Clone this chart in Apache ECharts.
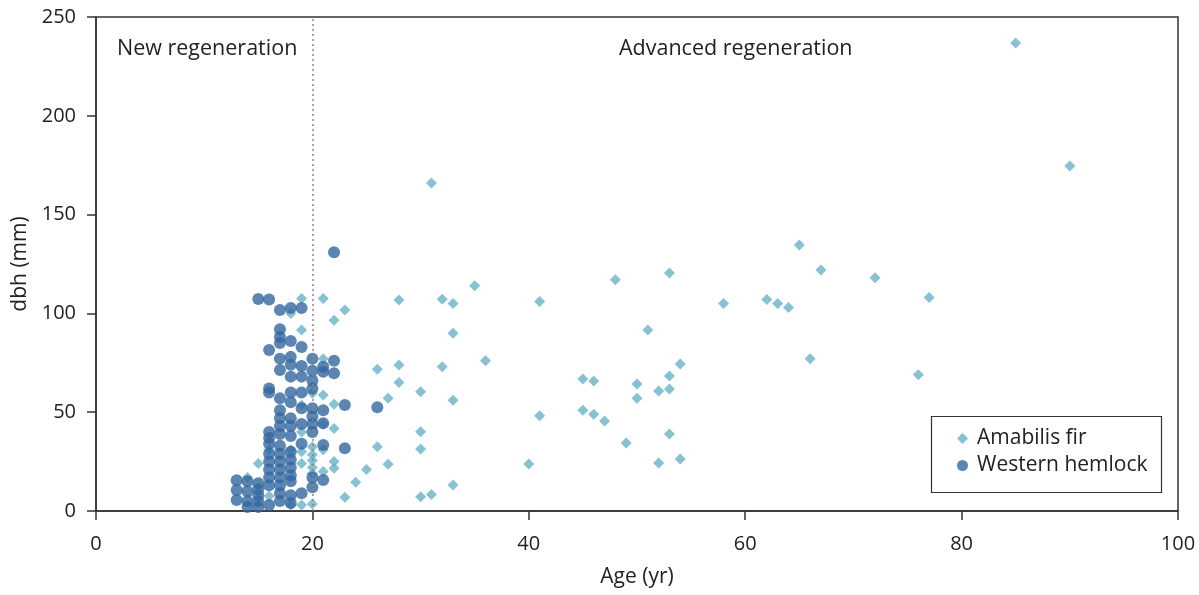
<!DOCTYPE html>
<html><head><meta charset="utf-8">
<script src="https://cdn.jsdelivr.net/npm/echarts@6/dist/echarts.min.js"></script>
<style>html,body{margin:0;padding:0;background:#fff}#c{width:1199px;height:595px}</style>
</head><body><div id="c"></div>
<script>
// Amabilis fir: [age (yr), dbh (mm)]
const firData = [
  [14,17],[15,24],[16,7.6],[16,31],
  [18,100],[18,31],[18,3],
  [19,107.6],[19,91.6],[19,53.6],[19,40],[19,30],[19,24],[19,3],
  [20,59.6],[20,32.5],[20,28.5],[20,25.5],[20,22],[20,19],[20,3.5],
  [21,107.6],[21,77],[21,58.7],[21,44],[21,31],[21,20],
  [22,96.5],[22,54],[22,41.8],[22,25],[22,21.6],
  [23,101.7],[23,7],[24,14.6],[25,21],[26,71.7],[26,32.5],[27,57],[27,23.6],
  [28,106.8],[28,73.9],[28,65],[30,60.4],[30,40.1],[30,31.4],[30,7.2],
  [31,166],[31,8.4],[32,107.1],[32,73],[33,105],[33,90],[33,56],[33,13.2],
  [35,114],[36,76],[40,23.8],[41,106],[41,48.2],
  [45,66.8],[45,51],[46,65.8],[46,49],[47,45.5],[48,117],[49,34.4],
  [50,64.3],[50,57],[51,91.6],[52,60.7],[52,24.3],[53,120.5],[53,68.3],[53,61.7],[53,39],
  [54,74.4],[54,26.3],[58,105],[62,107],[63,105],[64,103],[65,134.6],[66,77],[67,122],
  [72,118],[76,69],[77,108],[85,236.8],[90,174.6]
];
// Western hemlock: [age (yr), dbh (mm)]
const hemlockData = [
  [13,15.6],[13,10.6],[13,5.6],
  [14,15],[14,10],[14,5],[14,2],
  [15,107.3],[15,14],[15,11],[15,8],[15,5],[15,2],
  [16,107],[16,81.5],[16,62],[16,60],[16,40],[16,37],[16,34],[16,29],[16,25],[16,21],[16,17],[16,13],[16,3],
  [17,101.7],[17,92],[17,88],[17,85],[17,77],[17,71.4],[17,57],[17,51],[17,47],[17,43],[17,39],[17,33],[17,29],[17,25],[17,21],[17,17],[17,13],[17,9],[17,5],
  [18,102.7],[18,86],[18,78],[18,74],[18,68],[18,60],[18,55],[18,47],[18,43],[18,38],[18,30],[18,26],[18,22],[18,18],[18,15],[18,8],[18,4],
  [19,102.7],[19,83],[19,73.4],[19,68],[19,60],[19,52],[19,44],[19,34],[19,9],
  [20,77],[20,71],[20,66],[20,62],[20,52],[20,48],[20,44],[20,40],[20,17],[20,12],
  [21,73],[21,70.5],[21,51],[21,44.4],[21,33.4],[21,15.7],
  [22,131],[22,76],[22,69.7],
  [23,53.6],[23,31.7],
  [26,52.5]
];
const xTicks = [0, 20, 40, 60, 80, 100];
const yTicks = [0, 50, 100, 150, 200, 250];
const boundaryAge = 20;

const FONT = '"Open Sans", "Noto Sans", sans-serif';
const chart = echarts.init(document.getElementById('c'));
chart.setOption({
  animation: false,
  textStyle: { fontFamily: FONT },
  grid: { left: 96, right: 21, top: 17, bottom: 84, show: true, borderColor: '#333', borderWidth: 1.5 },
  xAxis: {
    type: 'value', min: xTicks[0], max: xTicks[xTicks.length-1], interval: 20,
    name: 'Age (yr)', nameLocation: 'middle', nameGap: 56,
    nameTextStyle: { fontSize: 21, color: '#222', fontFamily: FONT },
    axisLine: { show: true, onZero: false, lineStyle: { color: '#333', width: 1.5 } },
    axisTick: { show: true, length: 9, lineStyle: { color: '#333', width: 1.5 } },
    axisLabel: { fontSize: 20, color: '#222', margin: 23, fontFamily: FONT },
    splitLine: { show: false }
  },
  yAxis: {
    type: 'value', min: yTicks[0], max: yTicks[yTicks.length-1], interval: 50,
    name: 'dbh (mm)', nameLocation: 'middle', nameGap: 59, nameRotate: 90,
    nameTextStyle: { fontSize: 21, color: '#222', fontFamily: FONT },
    axisLine: { show: true, onZero: false, lineStyle: { color: '#333', width: 1.5 } },
    axisTick: { show: true, length: 9, lineStyle: { color: '#333', width: 1.5 } },
    axisLabel: { fontSize: 20, color: '#222', margin: 20, fontFamily: FONT },
    splitLine: { show: false }
  },
  legend: {
    orient: 'vertical', left: 952, top: 423, itemGap: 6,
    itemWidth: 11, itemHeight: 11,
    textStyle: { fontSize: 21, color: '#222', fontFamily: FONT, padding: [0, 0, 0, 4] },
    data: [{ name: 'Amabilis fir', icon: 'diamond' }, { name: 'Western hemlock', icon: 'circle' }]
  },
  graphic: [
    { type: 'rect', shape: { x: 931.5, y: 416.5, width: 230, height: 76 }, style: { fill: 'none', stroke: '#333', lineWidth: 1.2 }, z: 10 },
    { type: 'text', left: 117, top: 38, style: { text: 'New regeneration', fontSize: 21.5, fill: '#222', fontFamily: FONT } },
    { type: 'text', left: 619, top: 38, style: { text: 'Advanced regeneration', fontSize: 21.5, fill: '#222', fontFamily: FONT } }
  ],
  series: [
    {
      name: 'Amabilis fir', type: 'scatter', symbol: 'diamond', symbolSize: 11,
      itemStyle: { color: '#6ab1c6' }, data: firData, z: 3,
      markLine: {
        silent: true, symbol: 'none', label: { show: false },
        lineStyle: { type: [2, 3], color: '#888', width: 1.5 },
        data: [{ xAxis: boundaryAge }]
      }
    },
    {
      name: 'Western hemlock', type: 'scatter', symbol: 'circle', symbolSize: 12,
      itemStyle: { color: '#33679f' }, data: hemlockData, z: 4
    }
  ]
});
</script></body></html>
